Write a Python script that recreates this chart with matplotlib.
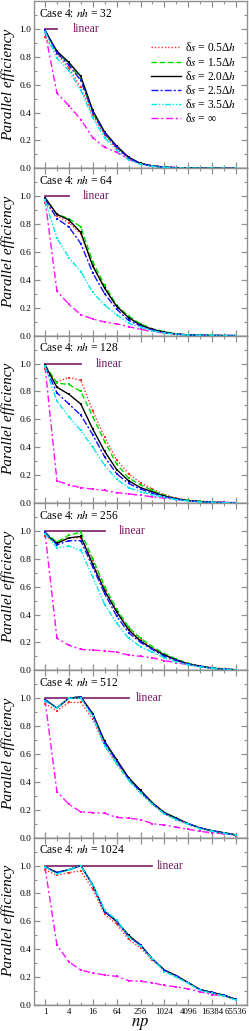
import matplotlib
matplotlib.use('Agg')
import matplotlib.pyplot as plt
from matplotlib.lines import Line2D
from matplotlib.ticker import FixedLocator, NullFormatter, FixedFormatter

plt.rcParams['font.family'] = ['Liberation Serif', 'DejaVu Serif']
plt.rcParams['mathtext.fontset'] = 'stix'

# np = 1, 2, 4, ..., 65536
nproc = [2 ** k for k in range(17)]
nh_values = [32, 64, 128, 256, 512, 1024]
linear_end = [2, 4, 8, 32, 128, 512]

labels = ['δ$s$ = 0.5Δ$h$', 'δ$s$ = 1.5Δ$h$', 'δ$s$ = 2.0Δ$h$',
          'δ$s$ = 2.5Δ$h$', 'δ$s$ = 3.5Δ$h$', 'δ$s$ = ∞']

# efficiency per panel, order: 0.5, 1.5, 2.0, 2.5, 3.5, inf
eff_32 = [
    [0.94, 0.82, 0.72, 0.58, 0.38, 0.24, 0.14, 0.07, 0.03, 0.015, 0.008, 0.004, 0.002, 0.001, 0.001, 0.0005, 0.0003],
    [0.99, 0.83, 0.75, 0.64, 0.40, 0.25, 0.155, 0.078, 0.034, 0.017, 0.008, 0.004, 0.002, 0.001, 0.001, 0.0005, 0.0003],
    [0.99, 0.84, 0.76, 0.66, 0.415, 0.26, 0.16, 0.08, 0.035, 0.018, 0.009, 0.005, 0.003, 0.002, 0.001, 0.001, 0.0005],
    [0.99, 0.83, 0.74, 0.63, 0.40, 0.25, 0.15, 0.075, 0.033, 0.016, 0.008, 0.004, 0.002, 0.001, 0.001, 0.0005, 0.0003],
    [0.98, 0.79, 0.70, 0.56, 0.36, 0.22, 0.13, 0.06, 0.028, 0.014, 0.007, 0.004, 0.002, 0.001, 0.001, 0.0005, 0.0003],
    [0.98, 0.54, 0.45, 0.35, 0.22, 0.15, 0.115, 0.065, 0.035, 0.018, 0.009, 0.005, 0.003, 0.002, 0.001, 0.0005, 0.0003],
]
eff_64 = [
    [0.95, 0.86, 0.81, 0.73, 0.51, 0.34, 0.21, 0.13, 0.08, 0.045, 0.025, 0.012, 0.006, 0.003, 0.0015, 0.001, 0.0005],
    [0.99, 0.87, 0.84, 0.78, 0.53, 0.36, 0.22, 0.14, 0.085, 0.05, 0.028, 0.013, 0.006, 0.003, 0.0015, 0.001, 0.0005],
    [0.99, 0.87, 0.83, 0.74, 0.50, 0.34, 0.21, 0.13, 0.075, 0.045, 0.025, 0.012, 0.006, 0.003, 0.0015, 0.001, 0.0005],
    [0.98, 0.84, 0.78, 0.66, 0.45, 0.30, 0.19, 0.11, 0.07, 0.04, 0.022, 0.011, 0.005, 0.003, 0.0015, 0.001, 0.0005],
    [0.97, 0.70, 0.56, 0.46, 0.31, 0.22, 0.15, 0.09, 0.06, 0.035, 0.02, 0.01, 0.005, 0.003, 0.0015, 0.001, 0.0005],
    [0.98, 0.32, 0.225, 0.15, 0.12, 0.098, 0.085, 0.065, 0.045, 0.03, 0.02, 0.01, 0.005, 0.003, 0.0015, 0.001, 0.0005],
]
eff_128 = [
    [0.96, 0.87, 0.90, 0.88, 0.66, 0.47, 0.31, 0.21, 0.145, 0.10, 0.06, 0.035, 0.02, 0.012, 0.006, 0.003, 0.002],
    [0.99, 0.86, 0.85, 0.80, 0.62, 0.44, 0.28, 0.18, 0.13, 0.09, 0.055, 0.03, 0.018, 0.011, 0.006, 0.003, 0.002],
    [0.99, 0.83, 0.78, 0.71, 0.53, 0.37, 0.24, 0.16, 0.11, 0.08, 0.05, 0.03, 0.017, 0.01, 0.005, 0.003, 0.002],
    [0.98, 0.79, 0.71, 0.63, 0.49, 0.33, 0.21, 0.14, 0.10, 0.07, 0.045, 0.028, 0.016, 0.01, 0.005, 0.003, 0.002],
    [0.98, 0.73, 0.62, 0.52, 0.40, 0.27, 0.17, 0.11, 0.08, 0.06, 0.04, 0.025, 0.015, 0.009, 0.005, 0.003, 0.002],
    [0.98, 0.16, 0.13, 0.11, 0.10, 0.09, 0.075, 0.065, 0.055, 0.045, 0.035, 0.025, 0.018, 0.012, 0.008, 0.005, 0.003],
]
eff_256 = [
    [0.96, 0.92, 0.95, 0.95, 0.79, 0.59, 0.43, 0.30, 0.22, 0.16, 0.115, 0.075, 0.05, 0.03, 0.018, 0.01, 0.005],
    [0.99, 0.92, 0.97, 0.99, 0.80, 0.60, 0.44, 0.31, 0.23, 0.17, 0.12, 0.08, 0.05, 0.03, 0.02, 0.01, 0.005],
    [0.98, 0.91, 0.95, 0.96, 0.76, 0.57, 0.42, 0.29, 0.21, 0.155, 0.11, 0.075, 0.045, 0.03, 0.015, 0.008, 0.004],
    [0.99, 0.90, 0.93, 0.93, 0.74, 0.55, 0.39, 0.27, 0.20, 0.15, 0.10, 0.07, 0.045, 0.028, 0.015, 0.008, 0.004],
    [0.98, 0.88, 0.89, 0.86, 0.67, 0.47, 0.34, 0.23, 0.17, 0.13, 0.09, 0.06, 0.04, 0.025, 0.014, 0.007, 0.004],
    [0.99, 0.23, 0.18, 0.15, 0.145, 0.14, 0.13, 0.11, 0.10, 0.09, 0.07, 0.055, 0.04, 0.03, 0.02, 0.01, 0.004],
]
eff_512 = [
    [0.96, 0.91, 0.97, 0.97, 0.85, 0.66, 0.53, 0.42, 0.32, 0.24, 0.17, 0.13, 0.095, 0.065, 0.045, 0.03, 0.015],
    [0.99, 0.93, 1.00, 1.01, 0.88, 0.68, 0.55, 0.43, 0.335, 0.25, 0.18, 0.14, 0.10, 0.07, 0.05, 0.035, 0.02],
    [0.99, 0.93, 1.00, 1.01, 0.89, 0.69, 0.56, 0.43, 0.34, 0.25, 0.18, 0.14, 0.10, 0.07, 0.05, 0.035, 0.02],
    [0.99, 0.93, 1.00, 1.01, 0.88, 0.68, 0.55, 0.42, 0.33, 0.245, 0.175, 0.135, 0.10, 0.07, 0.05, 0.033, 0.018],
    [0.98, 0.93, 1.00, 1.00, 0.87, 0.66, 0.53, 0.41, 0.32, 0.24, 0.17, 0.13, 0.095, 0.065, 0.045, 0.03, 0.018],
    [0.99, 0.33, 0.24, 0.185, 0.18, 0.175, 0.145, 0.14, 0.13, 0.10, 0.09, 0.075, 0.06, 0.045, 0.035, 0.028, 0.02],
]
eff_1024 = [
    [0.97, 0.93, 0.95, 0.96, 0.83, 0.65, 0.58, 0.47, 0.41, 0.32, 0.25, 0.20, 0.16, 0.11, 0.085, 0.065, 0.04],
    [0.99, 0.95, 0.97, 1.00, 0.86, 0.67, 0.60, 0.50, 0.43, 0.33, 0.25, 0.21, 0.16, 0.11, 0.09, 0.07, 0.04],
    [0.99, 0.95, 0.97, 1.00, 0.86, 0.67, 0.60, 0.50, 0.43, 0.33, 0.25, 0.21, 0.16, 0.11, 0.09, 0.07, 0.04],
    [0.99, 0.95, 0.97, 1.00, 0.86, 0.67, 0.60, 0.49, 0.43, 0.33, 0.25, 0.21, 0.16, 0.11, 0.09, 0.07, 0.04],
    [0.99, 0.94, 0.97, 1.00, 0.86, 0.68, 0.61, 0.49, 0.42, 0.33, 0.24, 0.20, 0.155, 0.105, 0.085, 0.065, 0.035],
    [0.99, 0.43, 0.31, 0.25, 0.23, 0.215, 0.205, 0.175, 0.17, 0.16, 0.14, 0.13, 0.115, 0.095, 0.075, 0.065, 0.04],
]
panels = [eff_32, eff_64, eff_128, eff_256, eff_512, eff_1024]

colors = ['#ff3030', '#00dd00', '#000000', '#1515ff', '#00e8e8', '#ff10ff']
styles = [(0, (1, 1.4)), (0, (4, 2)), '-', (0, (5, 1.5, 1.5, 1.5)),
          (0, (4, 1.3, 1, 1.3, 1, 1.3)), (0, (5, 2, 1.5, 2))]
purple = '#7a1a66'
spine_gray = '#909090'
# x position (log2 of np) where "linear" label starts
linear_text_x = [2.3, 3.15, 4.25, 6.2, 7.6, 9.35]

W, H = 249, 1031
fig = plt.figure(figsize=(W / 100, H / 100), dpi=100)
left, right = 34 / W, 247 / W
bottom = 26 / H
top = 1 - 1 / H
ph = (top - bottom) / 6

major = [4 ** k for k in range(9)]
minor = [2 ** (2 * k + 1) for k in range(8)]

for i, (nh, eff) in enumerate(zip(nh_values, panels)):
    ax = fig.add_axes([left, top - (i + 1) * ph, right - left, ph])
    for j in range(6):
        ax.plot(nproc, eff[j], color=colors[j], linestyle=styles[j], lw=1.0,
                marker='s', ms=2.1, mew=0, zorder=3 + (j != 5))
    ax.plot([1, linear_end[i]], [1.0, 1.0], color=purple, lw=1.2, zorder=2)
    ax.text(2 ** linear_text_x[i], 1.0, 'linear', color=purple, fontsize=8.5,
            va='center', ha='left')
    ax.axhline(0, color='black', lw=0.9, zorder=1)
    ax.text(0.022, 0.925, 'Case 4: $nh$ = %d' % nh, transform=ax.transAxes,
            fontsize=8.3, va='center', ha='left')

    ax.set_xscale('log', base=2)
    ax.set_xlim(2 ** -0.92, 2 ** 16.92)
    ax.set_ylim(0, 1.2)
    ax.xaxis.set_major_locator(FixedLocator(major))
    ax.xaxis.set_minor_locator(FixedLocator(minor))
    ax.xaxis.set_minor_formatter(NullFormatter())
    if i == 5:
        ax.xaxis.set_major_formatter(FixedFormatter([str(v) for v in major]))
        ax.set_xlabel('$np$', fontsize=12, labelpad=0)
    else:
        ax.xaxis.set_major_formatter(NullFormatter())
    ax.yaxis.set_major_locator(FixedLocator([0, 0.2, 0.4, 0.6, 0.8, 1.0]))
    ax.yaxis.set_minor_locator(FixedLocator([0.1, 0.3, 0.5, 0.7, 0.9, 1.1]))
    ax.set_yticklabels(['0.0', '0.2', '0.4', '0.6', '0.8', '1.0'])
    ax.tick_params(which='both', direction='in', top=True, right=True,
                   color=spine_gray, labelsize=6.8, pad=2)
    ax.tick_params(axis='x', labelsize=6.3)
    ax.tick_params(which='major', length=4, width=0.9)
    ax.tick_params(which='minor', length=2.5, width=0.8)
    for s in ax.spines.values():
        s.set_color(spine_gray)
        s.set_linewidth(1.0)
    ax.set_ylabel('Parallel efficiency', fontsize=11, style='italic', labelpad=3)
    if i == 0:
        handles = [Line2D([], [], color=colors[j], linestyle=styles[j], lw=1.0)
                   for j in range(6)]
        ax.legend(handles, labels, loc='upper right',
                  bbox_to_anchor=(0.985, 0.80), frameon=False,
                  fontsize=8.3, handlelength=2.6, handletextpad=0.4,
                  labelspacing=0.1, borderpad=0.1)

fig.savefig('out.png', dpi=100)
